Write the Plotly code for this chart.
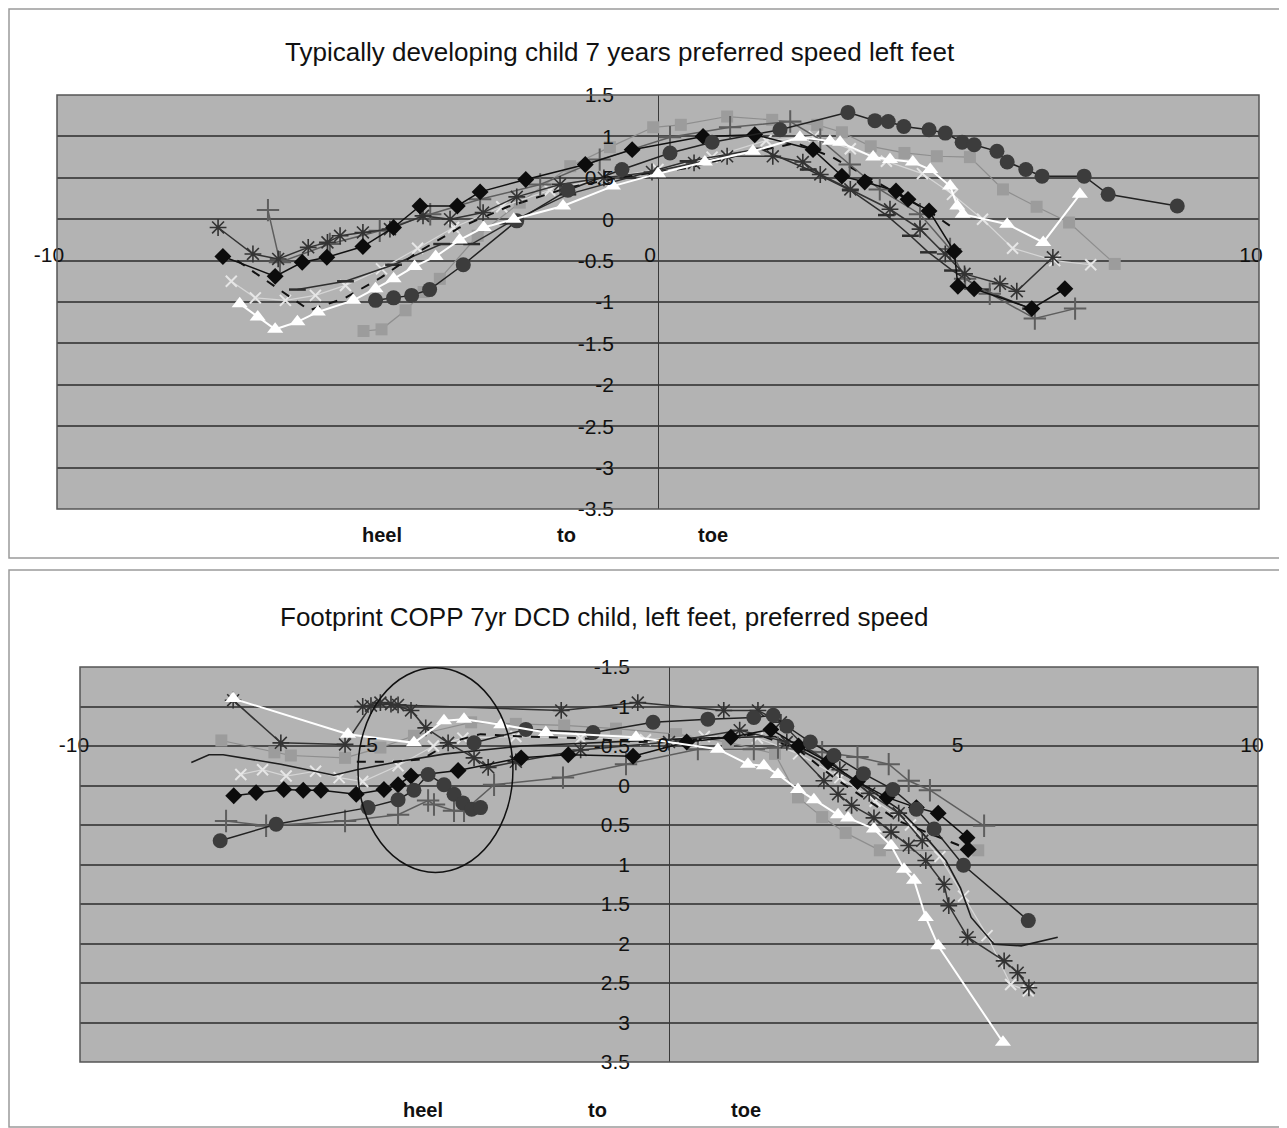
import plotly.graph_objects as go

# ---------------- data: top panel (typically developing child) ----------------
top_diamond_x = [-7.24, -6.37, -5.92, -5.51, -4.91, -4.4, -3.96, -3.34, -2.96, -2.2, -1.21, -0.43, 0.75, 1.61, 2.58, 3.06, 3.44, 3.96, 4.16, 4.51, 4.93, 4.99, 5.26, 6.22, 6.77]
top_diamond_y = [-0.45, -0.69, -0.52, -0.46, -0.33, -0.1, 0.16, 0.16, 0.33, 0.48, 0.66, 0.84, 1.0, 1.02, 0.84, 0.52, 0.45, 0.34, 0.24, 0.10, -0.39, -0.81, -0.84, -1.08, -0.84]

top_circle_x = [-4.7, -4.4, -4.1, -3.8, -3.24, -2.35, -1.5, -0.6, 0.2, 0.9, 2.03, 3.16, 3.61, 3.83, 4.09, 4.51, 4.78, 5.06, 5.26, 5.64, 5.81, 6.12, 6.39, 7.09, 7.49, 8.64]
top_circle_y = [-0.98, -0.95, -0.92, -0.85, -0.55, -0.02, 0.35, 0.6, 0.8, 0.93, 1.08, 1.29, 1.19, 1.18, 1.12, 1.08, 1.04, 0.93, 0.90, 0.82, 0.69, 0.60, 0.52, 0.52, 0.30, 0.16]

top_square_x = [-4.9, -4.6, -4.2, -3.9, -3.63, -3.0, -2.3, -1.46, -0.8, -0.08, 0.38, 1.15, 1.9, 2.65, 3.06, 3.54, 4.1, 4.64, 5.19, 5.74, 6.3, 6.84, 7.6]
top_square_y = [-1.35, -1.33, -1.1, -0.88, -0.72, -0.2, 0.2, 0.64, 0.87, 1.11, 1.14, 1.24, 1.2, 1.14, 1.05, 0.88, 0.8, 0.76, 0.75, 0.36, 0.15, -0.04, -0.54]

top_triangle_x = [-6.96, -6.66, -6.37, -6.0, -5.66, -5.07, -4.7, -4.4, -4.05, -3.7, -3.3, -2.9, -2.4, -1.58, -0.75, 0.0, 0.78, 1.58, 2.36, 2.86, 3.03, 3.58, 3.86, 4.24, 4.53, 4.86, 4.98, 5.07, 5.81, 6.41, 7.02]
top_triangle_y = [-1.02, -1.18, -1.33, -1.24, -1.12, -0.98, -0.84, -0.72, -0.57, -0.45, -0.25, -0.1, 0.0, 0.16, 0.40, 0.55, 0.69, 0.82, 0.99, 0.94, 0.93, 0.75, 0.72, 0.69, 0.60, 0.40, 0.16, 0.06, -0.06, -0.28, 0.30]

top_star_x = [-7.32, -6.74, -6.32, -5.82, -5.5, -5.29, -4.91, -4.46, -3.91, -3.46, -2.91, -2.35, -1.63, -0.9, -0.1, 0.6, 1.15, 1.91, 2.41, 2.7, 3.2, 3.86, 4.36, 4.78, 5.1, 5.69, 5.97, 6.57]
top_star_y = [-0.10, -0.42, -0.48, -0.34, -0.28, -0.20, -0.16, -0.12, 0.04, 0.0, 0.08, 0.27, 0.42, 0.5, 0.57, 0.68, 0.76, 0.76, 0.69, 0.54, 0.36, 0.12, -0.12, -0.42, -0.66, -0.78, -0.87, -0.46]

top_plus_x = [-6.49, -6.29, -5.46, -4.63, -3.79, -2.96, -1.96, -0.97, 0.2, 1.2, 2.2, 2.7, 3.19, 3.69, 4.36, 4.86, 5.11, 5.52, 6.27, 6.94]
top_plus_y = [0.11, -0.52, -0.30, -0.14, 0.06, 0.24, 0.42, 0.72, 0.99, 1.11, 1.18, 0.96, 0.66, 0.36, 0.06, -0.36, -0.72, -0.90, -1.20, -1.08]

top_dash_x = [-6.0, -5.2, -4.4, -3.6, -3.1, -2.5, -1.5, -0.5, 0.5, 1.7, 2.5, 3.2, 3.8, 4.2, 4.5, 4.9, 5.4, 6.2]
top_dash_y = [-0.85, -0.75, -0.55, -0.3, -0.3, -0.05, 0.3, 0.5, 0.7, 0.85, 0.6, 0.35, 0.05, -0.2, -0.4, -0.62, -0.85, -1.08]

top_dashed_x = [-7.0, -6.4, -5.8, -5.2, -4.6, -4.0, -3.3, -2.5, -1.5, -0.5, 0.5, 1.5, 2.3, 2.9, 3.5, 4.0, 4.5, 4.9]
top_dashed_y = [-0.5, -0.8, -1.1, -0.95, -0.7, -0.4, -0.1, 0.15, 0.38, 0.52, 0.62, 0.8, 0.92, 0.75, 0.5, 0.3, 0.1, -0.1]

top_xmark_x = [-7.1, -6.7, -6.2, -5.7, -5.2, -4.6, -4.0, -3.4, -2.6, -1.8, -0.9, 0.0, 0.9, 1.8, 2.6, 3.2, 3.8, 4.4, 4.9, 5.4, 5.9, 6.6, 7.2]
top_xmark_y = [-0.75, -0.95, -0.98, -0.92, -0.8, -0.6, -0.35, -0.1, 0.15, 0.35, 0.5, 0.6, 0.75, 0.95, 1.0, 0.85, 0.7, 0.55, 0.3, 0.0, -0.35, -0.5, -0.55]

# ---------------- data: bottom panel (DCD child) ----------------
bot_diamond_x = [-7.39, -7.01, -6.54, -6.21, -5.91, -5.31, -4.84, -4.6, -4.38, -3.58, -2.51, -1.71, -0.61, 0.3, 1.05, 1.73, 2.2, 2.7, 3.2, 3.7, 4.2, 4.57, 5.06, 5.08]
bot_diamond_y = [0.13, 0.09, 0.05, 0.06, 0.06, 0.11, 0.05, -0.01, -0.12, -0.19, -0.35, -0.39, -0.37, -0.55, -0.61, -0.71, -0.5, -0.3, -0.05, 0.15, 0.28, 0.35, 0.66, 0.81]

bot_circle_a_x = [-3.31, -2.43, -1.29, -0.27, 0.66, 1.44, 1.77, 2.0, 2.4, 2.8, 3.3, 3.8, 4.2, 4.5, 5.0, 6.1]
bot_circle_a_y = [-0.54, -0.71, -0.67, -0.8, -0.84, -0.86, -0.89, -0.75, -0.55, -0.38, -0.15, 0.05, 0.3, 0.55, 1.01, 1.71]

bot_circle_b_x = [-7.62, -6.67, -5.11, -4.6, -4.33, -4.09, -3.82, -3.65, -3.5, -3.35, -3.2]
bot_circle_b_y = [0.70, 0.49, 0.28, 0.18, 0.06, -0.14, -0.01, 0.11, 0.22, 0.30, 0.28]

bot_star_a_x = [-7.4, -6.59, -5.5, -5.06, -4.72, -4.38, -4.13, -3.75, -3.31, -3.07, -2.6, -1.5, 0.0, 1.2, 2.0, 2.63, 2.87, 3.1, 3.48, 3.77, 4.07, 4.36, 4.67, 4.75, 5.07, 5.69, 5.92, 6.11]
bot_star_a_y = [-1.08, -0.54, -0.52, -1.01, -1.03, -0.95, -0.73, -0.54, -0.35, -0.23, -0.3, -0.45, -0.55, -0.7, -0.55, -0.06, 0.11, 0.25, 0.41, 0.59, 0.76, 0.95, 1.25, 1.52, 1.92, 2.22, 2.37, 2.56]

bot_star_b_x = [-5.2, -4.9, -4.6, -1.83, -0.53, 0.93, 1.51, 1.9, 2.3, 2.9, 3.4, 3.9, 4.3]
bot_star_b_y = [-1.0, -1.05, -1.02, -0.95, -1.05, -0.95, -0.95, -0.8, -0.5, -0.2, 0.1, 0.35, 0.7]

bot_triangle_x = [-7.4, -5.45, -4.33, -3.82, -3.48, -2.85, -2.09, -0.56, 0.83, 1.34, 1.61, 1.85, 2.19, 2.46, 2.87, 3.04, 3.48, 3.77, 3.99, 4.16, 4.36, 4.57, 5.67]
bot_triangle_y = [-1.1, -0.65, -0.54, -0.82, -0.84, -0.77, -0.67, -0.61, -0.46, -0.27, -0.25, -0.14, 0.05, 0.18, 0.37, 0.41, 0.55, 0.76, 1.06, 1.2, 1.67, 2.03, 3.25]

bot_plus_x = [-7.52, -6.84, -5.5, -4.6, -4.09, -3.99, -3.65, -3.48, -2.97, -1.8, -0.73, 0.49, 1.44, 1.85, 2.6, 3.2, 3.73, 4.07, 4.43, 5.35]
bot_plus_y = [0.45, 0.51, 0.45, 0.37, 0.19, 0.24, 0.32, 0.32, -0.01, -0.1, -0.27, -0.46, -0.46, -0.48, -0.42, -0.36, -0.27, -0.06, 0.06, 0.51]

bot_line_x = [-8.11, -7.81, -7.57, -6.59, -5.69, -5.3, -4.6, -3.8, -2.5, -1.0, 0.5, 1.8, 2.6, 3.3, 3.9, 4.3, 4.7, 4.95, 5.13, 5.52, 5.98, 6.6]
bot_line_y = [-0.29, -0.39, -0.39, -0.27, -0.13, -0.2, -0.3, -0.4, -0.5, -0.55, -0.6, -0.62, -0.3, 0.0, 0.3, 0.6, 0.95, 1.3, 1.67, 2.01, 2.03, 1.92]

bot_square_x = [-7.6, -6.7, -6.42, -5.5, -4.9, -4.33, -3.36, -2.6, -1.78, -0.9, 0.12, 1.0, 1.8, 2.19, 2.6, 3.0, 3.58, 5.25]
bot_square_y = [-0.57, -0.42, -0.38, -0.35, -0.48, -0.63, -0.8, -0.78, -0.76, -0.72, -0.65, -0.55, -0.4, 0.15, 0.4, 0.6, 0.82, 0.82]

bot_xmark_x = [-7.27, -6.9, -6.5, -6.0, -5.6, -5.2, -4.6, -4.0, -3.5, -2.6, -1.5, -0.4, 0.6, 1.5, 2.2, 2.9, 3.5, 4.1, 4.6, 5.0, 5.4, 5.8, 6.1]
bot_xmark_y = [-0.14, -0.2, -0.12, -0.18, -0.1, -0.05, -0.25, -0.5, -0.6, -0.62, -0.6, -0.58, -0.62, -0.6, -0.4, -0.1, 0.2, 0.5, 0.9, 1.4, 1.9, 2.52, 2.6]

bot_dashed_x = [-5.3, -4.7, -4.2, -3.7, -3.2, -2.5, -1.5, -0.5, 0.5, 1.5, 2.2, 2.8, 3.4, 3.9, 4.4, 4.9, 5.1]
bot_dashed_y = [-0.3, -0.3, -0.33, -0.55, -0.65, -0.62, -0.6, -0.55, -0.58, -0.65, -0.45, -0.1, 0.2, 0.45, 0.6, 0.75, 0.85]

# circled region in the DCD panel (data units)
ellipse_x = [-5.28, -2.65]
ellipse_y = [-1.49, 1.10]

# ---------------- axes / text ----------------
top_title = "Typically developing child 7 years preferred speed left feet"
bot_title = "Footprint COPP 7yr DCD child, left feet, preferred speed"
top_xticks = [-10, 0, 10]
bot_xticks = [-10, -5, 0, 5, 10]
top_yticks = [1.5, 1, 0.5, 0, -0.5, -1, -1.5, -2, -2.5, -3, -3.5]
bot_yticks = [-1.5, -1, -0.5, 0, 0.5, 1, 1.5, 2, 2.5, 3, 3.5]
axis_words = ["heel", "to", "toe"]


def fmt(v):
    return "%g" % v


W, H = 1287, 1128
OFF = 8  # the page body margin shifts the figure by 8px
FONT = "Liberation Sans, Arial, sans-serif"


def fx(px):
    return (px - OFF) / W


def fy(py):
    return 1 - (py - OFF) / H


fig = go.Figure()

STYLES = {
    "square": dict(mode="lines+markers", line=dict(color="#8e8e8e", width=1.2),
                   marker=dict(symbol="square", size=12, color="#9c9c9c", line=dict(width=0))),
    "xmark": dict(mode="lines+markers", line=dict(color="#d6d6d6", width=1.2),
                  marker=dict(symbol="x-thin-open", size=11, color="#e6e6e6", line=dict(width=2, color="#e6e6e6"))),
    "dash": dict(mode="lines+markers", line=dict(color="#2e2e2e", width=1.5),
                 marker=dict(symbol="line-ew-open", size=12, color="#2e2e2e", line=dict(width=2.5, color="#2e2e2e"))),
    "dashed": dict(mode="lines", line=dict(color="#111111", width=2, dash="dash")),
    "plus": dict(mode="lines+markers", line=dict(color="#5e5e5e", width=1.5),
                 marker=dict(symbol="cross-thin-open", size=16, color="#5e5e5e", line=dict(width=2, color="#5e5e5e"))),
    "star": dict(mode="lines+markers", line=dict(color="#333333", width=1.5),
                 marker=dict(symbol="asterisk-open", size=14, color="#333333", line=dict(width=1.6, color="#333333"))),
    "diamond": dict(mode="lines+markers", line=dict(color="#111111", width=1.5),
                    marker=dict(symbol="diamond", size=13, color="#0c0c0c", line=dict(width=0))),
    "circle": dict(mode="lines+markers", line=dict(color="#222222", width=1.5),
                   marker=dict(symbol="circle", size=15, color="#3c3c3c", line=dict(width=0))),
    "triangle": dict(mode="lines+markers", line=dict(color="#ffffff", width=2),
                     marker=dict(symbol="triangle-up", size=14, color="#ffffff", line=dict(width=0))),
    "line": dict(mode="lines", line=dict(color="#1e1e1e", width=1.6)),
}


def add(xs, ys, style, xa, ya):
    st = STYLES[style]
    fig.add_trace(go.Scatter(x=xs, y=ys, xaxis=xa, yaxis=ya, showlegend=False,
                             hoverinfo="skip", **st))


# top panel series (draw order roughly as in the original)
add(top_square_x, top_square_y, "square", "x", "y")
add(top_xmark_x, top_xmark_y, "xmark", "x", "y")
add(top_dash_x, top_dash_y, "dash", "x", "y")
add(top_dashed_x, top_dashed_y, "dashed", "x", "y")
add(top_plus_x, top_plus_y, "plus", "x", "y")
add(top_star_x, top_star_y, "star", "x", "y")
add(top_diamond_x, top_diamond_y, "diamond", "x", "y")
add(top_circle_x, top_circle_y, "circle", "x", "y")
add(top_triangle_x, top_triangle_y, "triangle", "x", "y")

# bottom panel series
add(bot_square_x, bot_square_y, "square", "x2", "y2")
add(bot_xmark_x, bot_xmark_y, "xmark", "x2", "y2")
add(bot_line_x, bot_line_y, "line", "x2", "y2")
add(bot_dashed_x, bot_dashed_y, "dashed", "x2", "y2")
add(bot_plus_x, bot_plus_y, "plus", "x2", "y2")
add(bot_star_b_x, bot_star_b_y, "star", "x2", "y2")
add(bot_star_a_x, bot_star_a_y, "star", "x2", "y2")
add(bot_diamond_x, bot_diamond_y, "diamond", "x2", "y2")
add(bot_circle_b_x, bot_circle_b_y, "circle", "x2", "y2")
add(bot_circle_a_x, bot_circle_a_y, "circle", "x2", "y2")
add(bot_triangle_x, bot_triangle_y, "triangle", "x2", "y2")

# pixel geometry (screen pixels) of the two plot areas
TOP = dict(l=57, r=1259, t=95, b=509)
BOT = dict(l=80, r=1258, t=667, b=1062)

tickfont = dict(family=FONT, size=21, color="#111111")
grid = dict(showgrid=True, gridcolor="#4d4d4d", gridwidth=1.5)

fig.update_layout(
    width=W, height=H, margin=dict(l=0, r=0, t=0, b=0, autoexpand=False),
    paper_bgcolor="white", plot_bgcolor="#b3b3b3",
    font=dict(family=FONT, color="#111111"),
    xaxis=dict(domain=[fx(TOP["l"]), fx(TOP["r"])], range=[-10, 10],
               anchor="free", position=fy(240), automargin=False,
               tickvals=top_xticks, ticktext=[fmt(v) for v in top_xticks],
               ticks="", showgrid=False, showline=False,
               zeroline=True, zerolinecolor="#3a3a3a", zerolinewidth=1,
               tickfont=tickfont, ticklabelshift=-8),
    yaxis=dict(domain=[fy(TOP["b"]), fy(TOP["t"])], range=[-3.5, 1.5],
               anchor="free", position=fx(614), automargin=False,
               tickvals=top_yticks, ticktext=[fmt(v) for v in top_yticks],
               ticks="", showline=False, zeroline=False, tickfont=tickfont, **grid),
    xaxis2=dict(domain=[fx(BOT["l"]), fx(BOT["r"])], range=[-10, 10],
                anchor="free", position=fy(730), automargin=False,
                tickvals=bot_xticks, ticktext=[fmt(v) for v in bot_xticks],
                ticks="", showgrid=False, showline=False,
                zeroline=True, zerolinecolor="#3a3a3a", zerolinewidth=1,
                tickfont=tickfont, ticklabelshift=-6),
    yaxis2=dict(domain=[fy(BOT["b"]), fy(BOT["t"])], range=[3.5, -1.5],
                anchor="free", position=fx(630), automargin=False,
                tickvals=bot_yticks, ticktext=[fmt(v) for v in bot_yticks],
                ticks="", showline=False, zeroline=False, tickfont=tickfont, **grid),
)

shapes = [
    # outer chart borders
    dict(type="rect", xref="paper", yref="paper", x0=fx(9), x1=fx(1283),
         y0=fy(558), y1=fy(9), line=dict(color="#9a9a9a", width=1.5)),
    dict(type="rect", xref="paper", yref="paper", x0=fx(9), x1=fx(1283),
         y0=fy(1127), y1=fy(570), line=dict(color="#9a9a9a", width=1.5)),
    # plot area borders
    dict(type="rect", xref="x domain", yref="y domain", x0=0, x1=1, y0=0, y1=1,
         line=dict(color="#555555", width=1.5), layer="above"),
    dict(type="rect", xref="x2 domain", yref="y2 domain", x0=0, x1=1, y0=0, y1=1,
         line=dict(color="#555555", width=1.5), layer="above"),
    # ellipse marking the heel region in the DCD chart
    dict(type="circle", xref="x2", yref="y2", x0=ellipse_x[0], x1=ellipse_x[1],
         y0=ellipse_y[0], y1=ellipse_y[1], line=dict(color="#111111", width=1.5),
         layer="above"),
]
fig.update_layout(shapes=shapes)

annotations = []
for text, px, py in [(top_title, 620, 52), (bot_title, 604, 617)]:
    annotations.append(dict(text=text, x=fx(px), y=fy(py), xref="paper", yref="paper",
                            showarrow=False, xanchor="center", yanchor="middle",
                            font=dict(family=FONT, size=26, color="#111111")))
for word, px in zip(axis_words, [382, 566, 713]):
    annotations.append(dict(text="<b>%s</b>" % word, x=fx(px), y=fy(535), xref="paper",
                            yref="paper", showarrow=False, xanchor="center", yanchor="middle",
                            font=dict(family=FONT, size=20, color="#111111")))
for word, px in zip(axis_words, [423, 597, 746]):
    annotations.append(dict(text="<b>%s</b>" % word, x=fx(px), y=fy(1110), xref="paper",
                            yref="paper", showarrow=False, xanchor="center", yanchor="middle",
                            font=dict(family=FONT, size=20, color="#111111")))
fig.update_layout(annotations=annotations)

fig.write_html("out.html")
